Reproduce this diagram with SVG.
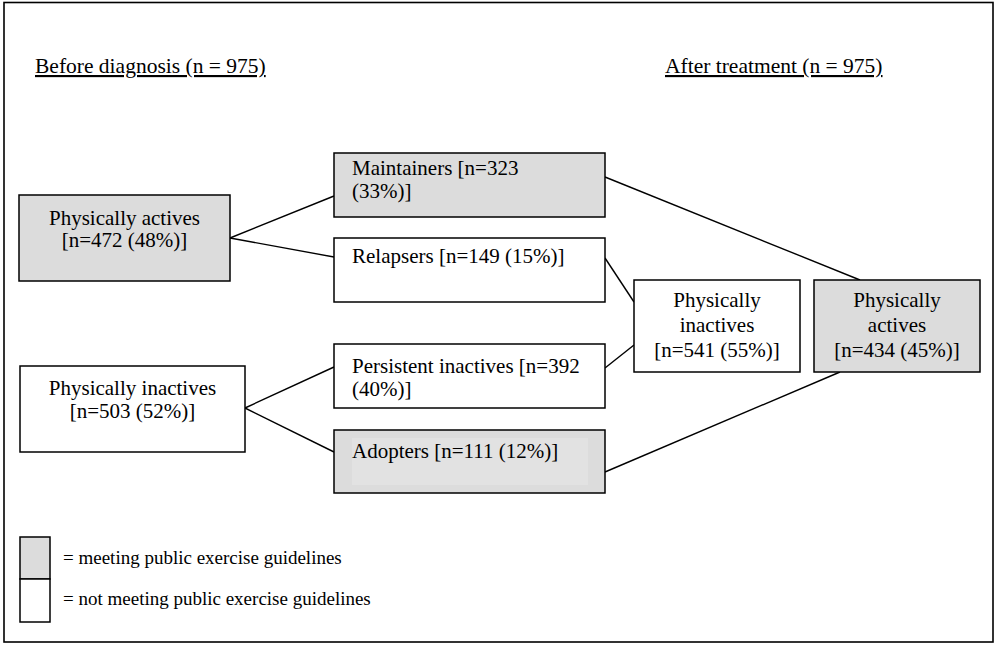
<svg xmlns="http://www.w3.org/2000/svg" width="996" height="645" viewBox="0 0 996 645">
<style>
text{font-family:"Liberation Serif","Times New Roman",serif;fill:#000;}
.t{font-size:21px;}
.c{text-anchor:middle;}
.h{font-size:21.5px;text-decoration:underline;}
.lg{font-size:19px;}
.box{stroke:#000;stroke-width:1.5;}
.g{fill:#dcdcdc;}
.w{fill:#fff;}
.con line{stroke:#000;stroke-width:1.4;}
</style>
<rect x="0" y="0" width="996" height="645" fill="#fff"/>
<rect x="4" y="2.5" width="989" height="639.5" fill="none" stroke="#000" stroke-width="1.6"/>
<text class="h" x="35" y="73">Before diagnosis (n = 975)</text>
<text class="h" x="665" y="73">After treatment (n = 975)</text>
<g id="connectors" class="con">
<line x1="230" y1="238" x2="334" y2="196"/>
<line x1="230" y1="238" x2="334" y2="257"/>
<line x1="245" y1="408" x2="334" y2="367"/>
<line x1="245" y1="408" x2="334" y2="452"/>
<line x1="605" y1="177" x2="860" y2="280"/>
<line x1="605" y1="258" x2="634" y2="302"/>
<line x1="605" y1="368" x2="634" y2="345"/>
<line x1="605" y1="472" x2="840" y2="372"/>
</g>
<g id="before-actives">
<rect class="box g" x="19" y="195" width="211" height="86"/>
<text class="t c" x="124.5" y="225">Physically actives</text>
<text class="t c" x="124.5" y="247">[n=472 (48%)]</text>
</g>
<g id="before-inactives">
<rect class="box w" x="20" y="366" width="225" height="86"/>
<text class="t c" x="132.5" y="395">Physically inactives</text>
<text class="t c" x="132.5" y="418">[n=503 (52%)]</text>
</g>
<g id="maintainers">
<rect class="box g" x="334" y="153" width="271" height="64"/>
<text class="t" x="352" y="175">Maintainers [n=323</text>
<text class="t" x="352" y="198">(33%)]</text>
</g>
<g id="relapsers">
<rect class="box w" x="334" y="238" width="271" height="64"/>
<text class="t" x="352" y="263">Relapsers [n=149 (15%)]</text>
</g>
<g id="persistent-inactives">
<rect class="box w" x="334" y="344" width="271" height="64"/>
<text class="t" x="352" y="373">Persistent inactives [n=392</text>
<text class="t" x="352" y="396">(40%)]</text>
</g>
<g id="adopters">
<rect class="box g" x="334" y="430" width="271" height="63"/>
<rect x="352" y="438" width="236" height="47" fill="#e2e2e2"/>
<text class="t" x="352" y="458">Adopters [n=111 (12%)]</text>
</g>
<g id="after-inactives">
<rect class="box w" x="634" y="280" width="166" height="92"/>
<text class="t c" x="717" y="307">Physically</text>
<text class="t c" x="717" y="332">inactives</text>
<text class="t c" x="717" y="357">[n=541 (55%)]</text>
</g>
<g id="after-actives">
<rect class="box g" x="814" y="280" width="166" height="92"/>
<text class="t c" x="897" y="307">Physically</text>
<text class="t c" x="897" y="332">actives</text>
<text class="t c" x="897" y="357">[n=434 (45%)]</text>
</g>
<g id="legend">
<rect class="box g" x="20" y="537" width="30" height="42"/>
<rect class="box w" x="20" y="579" width="30" height="43"/>
<text class="lg" x="63" y="564">= meeting public exercise guidelines</text>
<text class="lg" x="63" y="605">= not meeting public exercise guidelines</text>
</g>
</svg>
